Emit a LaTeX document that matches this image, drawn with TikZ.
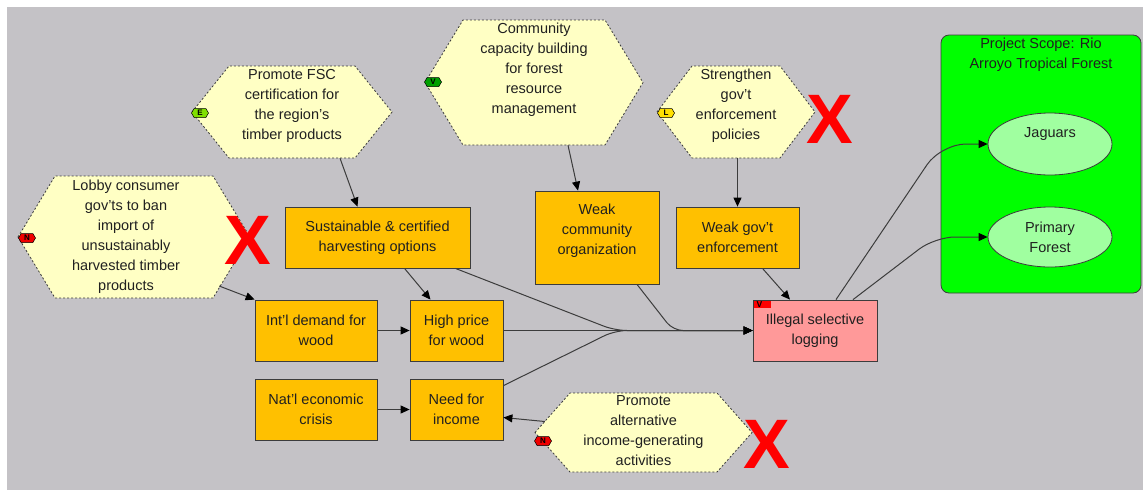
\documentclass[tikz,border=0pt]{standalone}
\usepackage{fontspec}
\setmainfont{Liberation Sans}
\usetikzlibrary{arrows.meta,shapes.geometric,shapes.symbols}
\definecolor{bg}{HTML}{C4C2C6}
\definecolor{hexfill}{HTML}{FFFFC4}
\definecolor{boxfill}{HTML}{FFC000}
\definecolor{pinkfill}{HTML}{FF9999}
\definecolor{scopefill}{HTML}{00FF00}
\definecolor{ellfill}{HTML}{A0FFA0}
\definecolor{edgecol}{HTML}{3C3C3C}
\definecolor{textcol}{HTML}{202020}
\definecolor{xred}{HTML}{FF0000}
\definecolor{bE}{HTML}{80E000}
\definecolor{bV}{HTML}{00A000}
\definecolor{bL}{HTML}{FFE000}
\definecolor{bN}{HTML}{F00000}
\tikzset{
  txt/.style={font=\fontsize{14.5}{20}\selectfont, text=textcol},
  hexline/.style={draw=edgecol, fill=hexfill, line width=0.8pt, dash pattern=on 2pt off 2pt},
  hextext/.style={txt, draw=none, align=center, inner sep=0pt},
  factor/.style={txt, draw=edgecol, fill=boxfill, line width=0.8pt, align=center, inner sep=0pt},
  target/.style={txt, ellipse, draw=edgecol, fill=ellfill, line width=0.8pt, align=center, inner sep=0pt, minimum width=124pt},
  conn/.style={draw=edgecol, line width=1pt, -{Triangle[length=9pt,width=8pt,color=black]}},
  badge/.style={signal, signal to=west and east, signal pointer angle=120, draw=black, line width=0.5pt, minimum width=17pt, minimum height=9pt, inner sep=0pt, font=\fontsize{8}{8}\selectfont\bfseries},
  xmark/.style={font=\fontsize{70}{70}\selectfont\bfseries, text=xred, inner sep=0pt}
}
% name, cx, cy, w, h, pointer depth, text depth, text
\newcommand\hexnode[8]{%
  \path[hexline] (#2-#4/2,#3) -- (#2-#4/2+#6,#3-#5/2) -- (#2+#4/2-#6,#3-#5/2) -- (#2+#4/2,#3) -- (#2+#4/2-#6,#3+#5/2) -- (#2-#4/2+#6,#3+#5/2) -- cycle;
  \node[hextext, minimum width=#4pt, minimum height=#5pt, text depth=#7pt] (#1) at (#2,#3) {#8};
}
\begin{document}
\begin{tikzpicture}[x=1pt,y=-1pt]
\useasboundingbox (0,0) rectangle (1143,491);
\fill[bg] (7,7) rectangle (1143,490);

% project scope
\node[txt, draw=edgecol, fill=scopefill, line width=0.8pt, rounded corners=8pt, minimum width=200pt, minimum height=258pt, inner sep=0pt] (scope) at (1041,164) {};
\node[txt, align=center, inner sep=0pt] (scopetitle) at (1041,55) {Project Scope: Rio\\Arroyo Tropical Forest};
\node[target, minimum height=62pt, text depth=23pt] (jag) at (1050,144) {Jaguars};
\node[target, minimum height=60pt] (pf) at (1050,237) {Primary\\Forest};

% strategies
\hexnode{fsc}{292}{112}{200}{92}{37}{15}{Promote FSC\\certification for\\the region's\\timber products}
\hexnode{comm}{534}{82.5}{218}{125}{38}{28}{Community\\capacity building\\for forest\\resource\\management}
\hexnode{str}{736}{112}{158}{92}{35}{15}{Strengthen\\gov't\\enforcement\\policies}
\path[hexline] (18,237) -- (55,176) -- (213,176) -- (250,237) -- (213,298) -- (55,298) -- cycle;
\node[hextext, minimum width=216pt, minimum height=122pt, text depth=3pt] (lobby) at (126,237) {Lobby consumer\\gov'ts to ban\\import of\\unsustainably\\harvested timber\\products};
\hexnode{alt}{643.5}{432.5}{217}{79}{35}{3}{Promote\\alternative\\income-generating\\activities}

% factors
\node[factor, minimum width=185pt, minimum height=61pt] (sust) at (377.5,237.5) {Sustainable \& certified\\harvesting options};
\node[factor, minimum width=124pt, minimum height=93pt, text depth=17pt] (wc) at (597,237.5) {Weak\\community\\organization};
\node[factor, minimum width=123pt, minimum height=61pt] (wgov) at (737.5,237.5) {Weak gov't\\enforcement};
\node[factor, minimum width=122pt, minimum height=61pt] (intl) at (316,330.5) {Int'l demand for\\wood};
\node[factor, minimum width=93pt, minimum height=61pt] (high) at (456.5,330.5) {High price\\for wood};
\node[factor, minimum width=122pt, minimum height=61pt] (nat) at (316,409.5) {Nat'l economic\\crisis};
\node[factor, minimum width=93pt, minimum height=61pt] (need) at (456.5,409.5) {Need for\\income};
\node[factor, fill=pinkfill, minimum width=124pt, minimum height=61pt] (ill) at (815,330.5) {Illegal selective\\logging};
\node[fill=xred, anchor=north west, minimum width=17pt, minimum height=7pt, inner sep=0pt, font=\fontsize{8.5}{8.5}\selectfont\bfseries, text=black] (illbadge) at (753.5,300.5) {\makebox[15pt][l]{\hspace{2pt}\raisebox{-1pt}{V}}};

% connectors
\coordinate (m1) at (615,330.5);
\coordinate (m2) at (673,330.5);
\coordinate (j1) at (941,144);
\coordinate (p1) at (935,237);
\draw[conn] ([xshift=48pt]fsc.south) -- ([xshift=-20pt]sust.north);
\draw[conn] ([xshift=34pt]comm.south) -- ([xshift=-19pt]wc.north);
\draw[conn] ([xshift=1.5pt]str.south) -- (wgov.north);
\draw[conn] ([shift={(-15,49)}]lobby.east) -- (intl.north west);
\draw[conn] ([xshift=27pt]sust.south) -- ([xshift=-26pt]high.north);
\draw[conn] (intl.east) -- (high.west);
\draw[conn] (nat.east) -- (need.west);
\draw[conn] ([shift={(10,-11)}]alt.west) -- ([yshift=-8pt]need.east);
\draw[conn] ([xshift=25pt]wgov.south) -- ([xshift=-25pt]ill.north);
\draw[conn, rounded corners=12pt] ([xshift=-15pt]sust.south east) -- (m1) -- (ill.west);
\draw[conn] (high.east) -- (ill.west);
\draw[conn, rounded corners=12pt] ([yshift=-7pt]need.north east) -- (m1) -- (ill.west);
\draw[conn, rounded corners=10pt] ([xshift=40pt]wc.south) -- (m2) -- (ill.west);
\draw[conn, rounded corners=25pt] ([xshift=21pt]ill.north) -- (j1) -- (jag.west);
\draw[conn, rounded corners=20pt] ([xshift=38pt]ill.north) -- (p1) -- (pf.west);

% badges
\node[badge, fill=bE] (badgeE) at (200,113) {E};
\node[badge, fill=bV] (badgeV) at (433,82) {V};
\node[badge, fill=bL] (badgeL) at (666,113) {L};
\node[badge, fill=bN] (badgeN1) at (27,238) {N};
\node[badge, fill=bN] (badgeN2) at (543,441) {N};

% red X marks
\node[xmark] (x1) at (248,240) {X};
\node[xmark] (x2) at (830,119) {X};
\node[xmark] (x3) at (767,444) {X};
\end{tikzpicture}
\end{document}
